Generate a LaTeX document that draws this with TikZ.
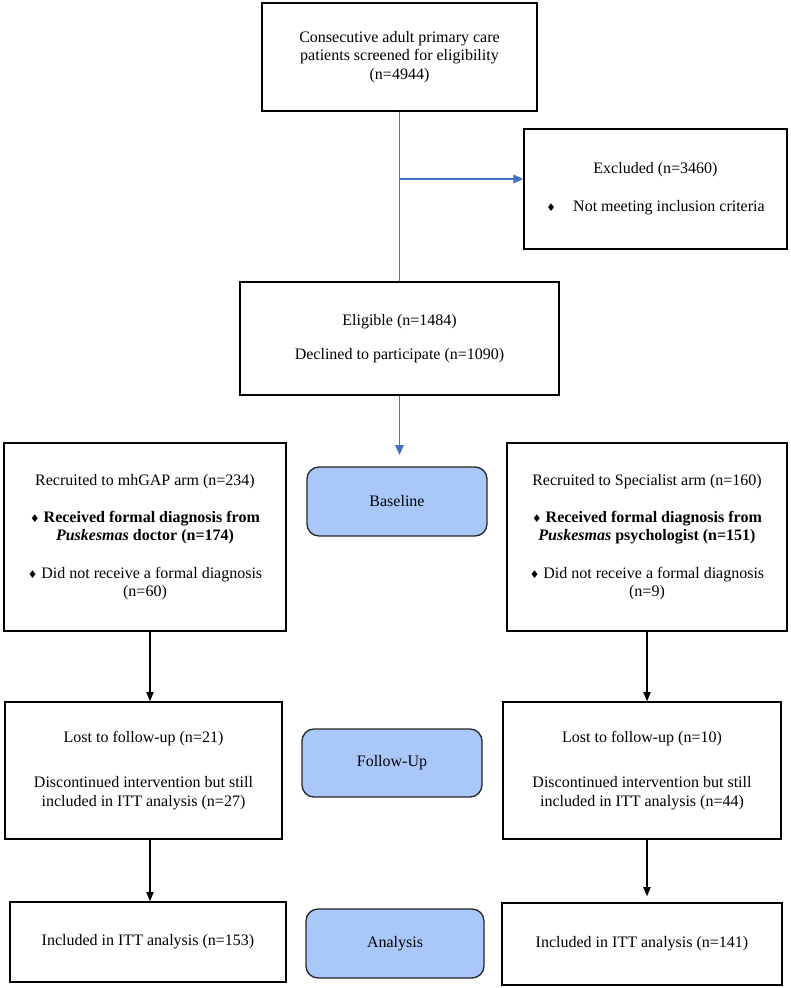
\documentclass[tikz,border=0pt]{standalone}
\usepackage{fontspec}
\setmainfont{Liberation Serif}
\newfontfamily\symfont{DejaVu Sans}
\usetikzlibrary{arrows.meta}
\definecolor{lineblue}{RGB}{68,114,196}
\definecolor{phasefill}{RGB}{170,199,250}
\newcommand{\dmd}{{\symfont\fontsize{8}{8}\selectfont ♦}}
\begin{document}
\begin{tikzpicture}[x=0.75pt,y=-0.75pt,
  box/.style={draw=black, line width=1pt, inner sep=0pt, align=center,
    font=\fontsize{12}{13.9}\selectfont},
  phase/.style={draw=black!85, fill=phasefill, rounded corners=9pt, line width=1pt,
    inner sep=0pt, align=center, font=\fontsize{12}{13.9}\selectfont},
  bline/.style={draw=lineblue, line width=1pt},
  barrow/.style={draw=lineblue, line width=1pt, -{Triangle[length=7.5pt,width=6.5pt]}, color=lineblue},
  karrow/.style={draw=black, line width=0.9pt, -{Triangle[length=7pt,width=5.5pt]}}
]
\useasboundingbox (0,0) rectangle (790,988);

% top part
\node[box, minimum width=206.25pt, minimum height=81pt] (top) at (399.5,57)
  {Consecutive adult primary care\\patients screened for eligibility\\(n=4944)};
\node[box, minimum width=197.25pt, minimum height=90pt] (excl) at (655.5,189)
  {Excluded (n=3460)\\[14.5pt]\dmd\hspace{13pt}Not meeting inclusion criteria};
\node[box, minimum width=239.25pt, minimum height=84.75pt] (elig) at (399.5,338.5)
  {Eligible (n=1484)\\[12pt]Declined to participate (n=1090)};

% baseline row
\node[box, minimum width=211.5pt, minimum height=141pt] (lb) at (145,537)
  {Recruited to mhGAP arm (n=234)\\[14pt]
   \dmd\ \textbf{Received formal diagnosis from}\\
   \textbf{\textit{Puskesmas} doctor (n=174)}\\[14pt]
   \dmd\ Did not receive a formal diagnosis\\(n=60)};
\node[box, minimum width=210pt, minimum height=141pt] (rb) at (647,537)
  {Recruited to Specialist arm (n=160)\\[14pt]
   \dmd\ \textbf{Received formal diagnosis from}\\
   \textbf{\textit{Puskesmas} psychologist (n=151)}\\[14pt]
   \dmd\ Did not receive a formal diagnosis\\(n=9)};
\node[phase, minimum width=135pt, minimum height=51.75pt] (base) at (397,501.5) {Baseline};

% follow-up row
\node[box, minimum width=207.75pt, minimum height=102.75pt] (lf) at (143.5,770.5)
  {Lost to follow-up (n=21)\\[20pt]Discontinued intervention but still\\included in ITT analysis (n=27)};
\node[box, minimum width=208.5pt, minimum height=102.75pt] (rf) at (642,770.5)
  {Lost to follow-up (n=10)\\[20pt]Discontinued intervention but still\\included in ITT analysis (n=44)};
\node[phase, minimum width=135pt, minimum height=51pt] (fu) at (392,763) {Follow-Up};

% analysis row
\node[box, minimum width=207pt, minimum height=60pt] (la) at (148,942)
  {Included in ITT analysis (n=153)};
\node[box, minimum width=210pt, minimum height=61.5pt] (ra) at (642,944)
  {Included in ITT analysis (n=141)};
\node[phase, minimum width=133.5pt, minimum height=51.75pt] (an) at (395,943.5) {Analysis};

% connectors
\coordinate (br) at (399.5,179);
\coordinate (btip) at (399.5,455);
\coordinate (lx) at (150,0);
\coordinate (rx) at (647,0);
\draw[bline] (top.south) -- (elig.north);
\draw[barrow] (br) -- (br -| excl.west);
\draw[barrow] (elig.south) -- (btip);
\draw[karrow] (lb.south -| lx) -- (lf.north -| lx);
\draw[karrow] (lf.south -| lx) -- (la.north -| lx);
\draw[karrow] (rb.south -| rx) -- (rf.north -| rx);
\draw[karrow] (rf.south -| rx) -- ([yshift=4.5pt]ra.north -| rx);
\end{tikzpicture}
\end{document}
